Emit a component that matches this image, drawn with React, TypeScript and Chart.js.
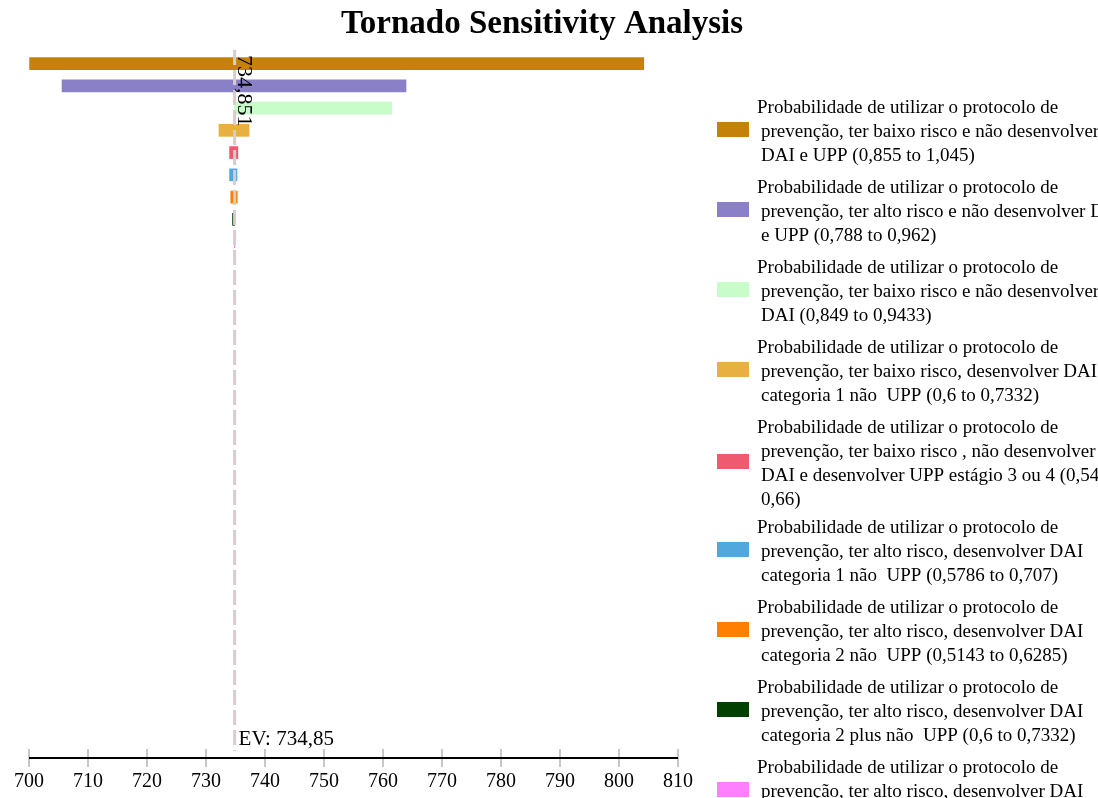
import React, { useEffect, useRef } from 'react';
import { Chart, registerables } from 'chart.js';

Chart.register(...registerables);

const TITLE = 'Tornado Sensitivity Analysis';
const EV = 734.85;
const EV_TOP_LABEL = '734,851';
const EV_BOTTOM_LABEL = 'EV: 734,85';
const X_MIN = 700;
const X_MAX = 810;
const X_STEP = 10;

const rowIndex = [1, 2, 3, 4, 5, 6, 7, 8, 9];
const lowValues = [700.1, 705.6, 734.85, 732.2, 734.0, 734.0, 734.2, 734.5, 734.8];
const highValues = [804.2, 763.9, 761.5, 737.3, 735.4, 735.25, 735.3, 734.85, 734.9];
const barColors = ['#c4820a', '#8a80c8', '#c8fcc8', '#e8b040', '#f05a6e', '#50a8dc', '#ff8000', '#004000', '#ff80ff'];

const legendLines: string[][] = [
  ['Probabilidade de utilizar o protocolo de', 'prevenção, ter baixo risco e não desenvolver', 'DAI e UPP (0,855 to 1,045)'],
  ['Probabilidade de utilizar o protocolo de', 'prevenção, ter alto risco e não desenvolver DAI', 'e UPP (0,788 to 0,962)'],
  ['Probabilidade de utilizar o protocolo de', 'prevenção, ter baixo risco e não desenvolver', 'DAI (0,849 to 0,9433)'],
  ['Probabilidade de utilizar o protocolo de', 'prevenção, ter baixo risco, desenvolver DAI', 'categoria 1 não  UPP (0,6 to 0,7332)'],
  ['Probabilidade de utilizar o protocolo de', 'prevenção, ter baixo risco , não desenvolver', 'DAI e desenvolver UPP estágio 3 ou 4 (0,54 to', '0,66)'],
  ['Probabilidade de utilizar o protocolo de', 'prevenção, ter alto risco, desenvolver DAI', 'categoria 1 não  UPP (0,5786 to 0,707)'],
  ['Probabilidade de utilizar o protocolo de', 'prevenção, ter alto risco, desenvolver DAI', 'categoria 2 não  UPP (0,5143 to 0,6285)'],
  ['Probabilidade de utilizar o protocolo de', 'prevenção, ter alto risco, desenvolver DAI', 'categoria 2 plus não  UPP (0,6 to 0,7332)'],
  ['Probabilidade de utilizar o protocolo de', 'prevenção, ter alto risco, desenvolver DAI', 'categoria 3 não  UPP (0,6 to 0,7332)'],
];

const SERIF = '"Liberation Serif", "Times New Roman", serif';

const overlayPlugin = {
  id: 'tornadoOverlay',
  afterDatasetsDraw(chart: any) {
    const ctx = chart.ctx as CanvasRenderingContext2D;
    const xs = chart.scales.x;
    const area = chart.chartArea;
    const evX = xs.getPixelForValue(EV);
    ctx.save();
    // EV dashed line
    ctx.strokeStyle = '#d9cbce';
    ctx.lineWidth = 3;
    ctx.setLineDash([15, 5]);
    ctx.beginPath();
    ctx.moveTo(evX, area.top - 2);
    ctx.lineTo(evX, area.bottom + 2);
    ctx.stroke();
    ctx.setLineDash([]);
    // axis line
    ctx.strokeStyle = '#000000';
    ctx.lineWidth = 2;
    ctx.beginPath();
    ctx.moveTo(xs.left, area.bottom + 9);
    ctx.lineTo(xs.right, area.bottom + 9);
    ctx.stroke();
    // rotated EV label
    ctx.fillStyle = '#000000';
    ctx.font = `22px ${SERIF}`;
    ctx.translate(evX + 9, area.top + 3);
    ctx.rotate(Math.PI / 2);
    ctx.textAlign = 'left';
    ctx.textBaseline = 'middle';
    ctx.fillText(EV_TOP_LABEL, 0, 0);
    ctx.restore();
    // bottom EV label
    ctx.save();
    ctx.fillStyle = '#000000';
    ctx.font = `21px ${SERIF}`;
    ctx.textAlign = 'left';
    ctx.textBaseline = 'middle';
    ctx.fillText(EV_BOTTOM_LABEL, evX + 4, area.bottom - 10);
    ctx.restore();
  },
  afterDraw(chart: any) {
    const ctx = chart.ctx as CanvasRenderingContext2D;
    ctx.save();
    ctx.fillStyle = '#000000';
    ctx.font = `bold 33px ${SERIF}`;
    ctx.textAlign = 'center';
    ctx.textBaseline = 'middle';
    ctx.fillText(TITLE, 542, 24);
    // legend
    ctx.font = `19px ${SERIF}`;
    ctx.textAlign = 'left';
    let y = 108;
    legendLines.forEach((lines, i) => {
      const center = y + ((lines.length - 1) * 24) / 2;
      ctx.fillStyle = barColors[i];
      ctx.fillRect(717, center - 2.5 - 7.5, 32, 15);
      ctx.fillStyle = '#000000';
      lines.forEach((t, j) => {
        ctx.fillText(t, j === 0 ? 757 : 761, y + j * 24);
      });
      y += 20 * (lines.length + 1);
    });
    ctx.restore();
  },
};

export default function App() {
  const ref = useRef<HTMLCanvasElement | null>(null);
  useEffect(() => {
    document.body.style.margin = '0';
    const canvas = ref.current;
    if (!canvas) return;
    const chart = new Chart(canvas, {
      type: 'bar',
      data: {
        datasets: [
          {
            data: rowIndex.map((r, i) => ({ x: [lowValues[i], highValues[i]], y: r })) as any,
            backgroundColor: barColors,
            borderWidth: 0,
            barThickness: 12,
          },
        ],
      },
      plugins: [overlayPlugin],
      options: {
        indexAxis: 'y',
        animation: false,
        responsive: false,
        devicePixelRatio: 1,
        layout: { padding: { left: 29, right: 420, top: 52, bottom: 1 } },
        plugins: {
          legend: { display: false },
          tooltip: { enabled: false },
          title: { display: false },
        },
        scales: {
          y: {
            type: 'linear',
            min: 0.48,
            max: 31.8,
            reverse: true,
            offset: false,
            grid: { offset: false, display: false },
            display: false,
          },
          x: {
            type: 'linear',
            min: X_MIN,
            max: X_MAX,
            border: { display: false },
            grid: {
              drawOnChartArea: false,
              drawTicks: true,
              tickLength: 18,
              color: '#c8c8c8',
              lineWidth: 2,
            },
            ticks: {
              stepSize: X_STEP,
              color: '#000000',
              padding: 3,
              maxRotation: 0,
              autoSkip: false,
              font: { family: SERIF, size: 20 },
              callback: (v: any) => String(v),
            },
          },
        },
      },
    });
    return () => chart.destroy();
  }, []);
  return (
    <canvas
      ref={ref}
      width={1098}
      height={798}
      style={{ display: 'block', width: '1098px', height: '798px' }}
    />
  );
}
